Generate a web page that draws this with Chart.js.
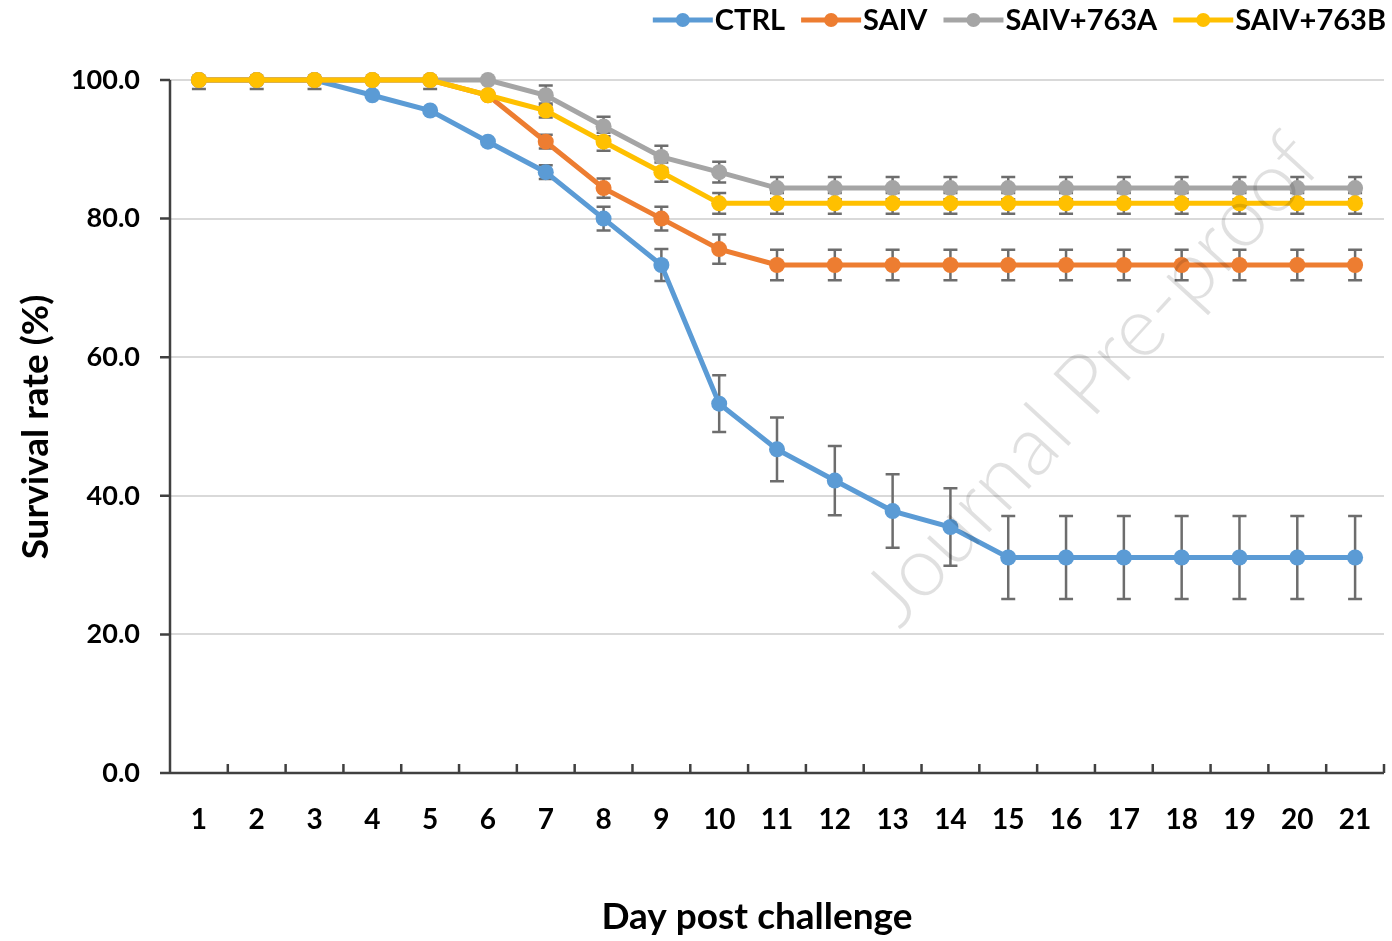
<!DOCTYPE html>
<html>
<head>
<meta charset="utf-8">
<script src="https://cdn.jsdelivr.net/npm/chart.js@4.4.1/dist/chart.umd.min.js"></script>
<style>
  html, body { margin: 0; padding: 0; background: #fff; }
  #wrap { width: 1392px; height: 941px; position: relative; }
</style>
</head>
<body>
<div id="wrap"><canvas id="myChart" width="1392" height="941"></canvas></div>
<script>
// datos
const dias = ['1','2','3','4','5','6','7','8','9','10','11','12','13','14','15','16','17','18','19','20','21'];
const nombresSeries = ['CTRL', 'SAIV', 'SAIV+763A', 'SAIV+763B'];
const coloresSeries = ['#5b9bd5', '#ed7d31', '#a5a5a5', '#ffc000'];

const ctrl  = [100,100,100,97.8,95.6,91.1,86.7,80.0,73.3,53.3,46.7,42.2,37.8,35.5,31.1,31.1,31.1,31.1,31.1,31.1,31.1];
const saiv  = [100,100,100,100,100,97.8,91.1,84.4,80.0,75.6,73.3,73.3,73.3,73.3,73.3,73.3,73.3,73.3,73.3,73.3,73.3];
const saivA = [100,100,100,100,100,100,97.8,93.3,88.9,86.7,84.4,84.4,84.4,84.4,84.4,84.4,84.4,84.4,84.4,84.4,84.4];
const saivB = [100,100,100,100,100,97.8,95.6,91.1,86.7,82.2,82.2,82.2,82.2,82.2,82.2,82.2,82.2,82.2,82.2,82.2,82.2];

// barras de error (+/-)
const errCtrl  = [0,0,0,0,0,0,1.0,1.7,2.3,4.1,4.6,5.0,5.3,5.6,6.0,6.0,6.0,6.0,6.0,6.0,6.0];
const errSaiv  = [0,0,0,0,0,0,1.0,1.4,1.7,2.1,2.2,2.2,2.2,2.2,2.2,2.2,2.2,2.2,2.2,2.2,2.2];
const errSaivA = [1.3,1.3,1.3,0,1.3,0,1.4,1.4,1.6,1.5,1.6,1.6,1.6,1.6,1.6,1.6,1.6,1.6,1.6,1.6,1.6];
const errSaivB = [0,0,0,0,0,0,1.0,1.3,1.4,1.5,1.5,1.5,1.5,1.5,1.5,1.5,1.5,1.5,1.5,1.5,1.5];

const ticksY = [0, 20, 40, 60, 80, 100];

const tituloX = 'Day post challenge';
const tituloY = 'Survival rate (%)';

const valores = [ctrl, saiv, saivA, saivB];
const errores = [errCtrl, errSaiv, errSaivA, errSaivB];

const FUENTE = "Lato, 'Open Sans', sans-serif";

// dibujar barras de error debajo de las series
const pluginErrores = {
  id: 'errores',
  beforeDatasetsDraw(chart) {
    const ctx = chart.ctx;
    const x = chart.scales.x, y = chart.scales.y;
    const area = chart.chartArea;
    ctx.save();
    ctx.beginPath();
    ctx.rect(area.left, area.top, area.right - area.left, area.bottom - area.top);
    ctx.clip();
    ctx.strokeStyle = '#6d6d6d';
    ctx.lineWidth = 2.5;
    valores.forEach((serie, s) => {
      serie.forEach((v, i) => {
        const e = errores[s][i];
        if (!e) return;
        const px = x.getPixelForValue(i);
        const y1 = y.getPixelForValue(v + e);
        const y2 = y.getPixelForValue(v - e);
        ctx.beginPath();
        ctx.moveTo(px, y1); ctx.lineTo(px, y2);
        ctx.moveTo(px - 7, y1); ctx.lineTo(px + 7, y1);
        ctx.moveTo(px - 7, y2); ctx.lineTo(px + 7, y2);
        ctx.stroke();
      });
    });
    ctx.restore();
  },
  afterDraw(chart) {
    const ctx = chart.ctx;
    const x = chart.scales.x, y = chart.scales.y;
    const area = chart.chartArea;
    ctx.save();
    // ejes
    ctx.strokeStyle = '#404040';
    ctx.lineWidth = 2.5;
    ctx.beginPath();
    ctx.moveTo(area.left, area.top); ctx.lineTo(area.left, area.bottom);
    ctx.moveTo(area.left, area.bottom); ctx.lineTo(area.right, area.bottom);
    // marcas del eje x hacia arriba
    const paso = x.getPixelForValue(1) - x.getPixelForValue(0);
    for (let i = 0; i <= dias.length; i++) {
      const px = x.getPixelForValue(0) - paso / 2 + i * paso;
      ctx.moveTo(px, area.bottom); ctx.lineTo(px, area.bottom - 9);
    }
    // marcas del eje y hacia la izquierda
    ticksY.forEach(t => {
      const py = y.getPixelForValue(t);
      ctx.moveTo(area.left - 10, py); ctx.lineTo(area.left, py);
    });
    ctx.stroke();

    // titulos de los ejes
    ctx.fillStyle = '#000';
    ctx.textAlign = 'center';
    ctx.textBaseline = 'middle';
    ctx.font = "bold 37px " + FUENTE;
    ctx.fillText(tituloX, 757, 917);
    ctx.save();
    ctx.translate(36, 427);
    ctx.rotate(-Math.PI / 2);
    ctx.fillText(tituloY, 0, 0);
    ctx.restore();

    // marca de agua
    ctx.translate(1092, 380);
    ctx.rotate(-47.5 * Math.PI / 180);
    ctx.font = "300 84px " + FUENTE;
    ctx.fillStyle = 'rgba(0,0,0,0.12)';
    ctx.textAlign = 'center';
    ctx.textBaseline = 'middle';
    ctx.fillText('Journal Pre-proof', 0, 0);
    ctx.restore();

    // leyenda
    ctx.save();
    ctx.font = "bold 29px " + FUENTE;
    ctx.textBaseline = 'middle';
    const ly = 20;
    let xr = 1386;
    const anchos = nombresSeries.map(n => ctx.measureText(n).width);
    const posiciones = [];
    for (let s = nombresSeries.length - 1; s >= 0; s--) {
      const xt = xr - anchos[s];
      posiciones[s] = xt;
      xr = xt - 62 - 16;
    }
    nombresSeries.forEach((n, s) => {
      const xt = posiciones[s];
      ctx.strokeStyle = coloresSeries[s];
      ctx.lineWidth = 5;
      ctx.beginPath();
      ctx.moveTo(xt - 62, ly); ctx.lineTo(xt - 2, ly);
      ctx.stroke();
      ctx.fillStyle = coloresSeries[s];
      ctx.beginPath();
      ctx.arc(xt - 32, ly, 7, 0, Math.PI * 2);
      ctx.fill();
      ctx.fillStyle = '#000';
      ctx.fillText(n, xt, ly + 1);
    });
    ctx.restore();
  }
};

const datasets = valores.map((serie, s) => ({
  label: nombresSeries[s],
  data: serie,
  borderColor: coloresSeries[s],
  backgroundColor: coloresSeries[s],
  pointBackgroundColor: coloresSeries[s],
  pointBorderColor: coloresSeries[s],
  borderWidth: 5,
  pointRadius: 8,
  pointBorderWidth: 0,
  fill: false,
  tension: 0,
  clip: false,
  order: nombresSeries.length - s
}));

var Canvas = document.getElementById('myChart');

var lineChart = new Chart(Canvas, {
  type: 'line',
  data: { labels: dias, datasets: datasets },
  plugins: [pluginErrores],
  options: {
    responsive: false,
    animation: false,
    events: [],
    layout: { padding: { top: 80, right: 0, left: 10, bottom: 0 } },
    plugins: { legend: { display: false }, tooltip: { enabled: false } },
    scales: {
      x: {
        offset: true,
        grid: { display: false, drawTicks: true, tickLength: 30 },
        border: { display: false },
        ticks: { color: '#000', font: { family: FUENTE, size: 28, weight: 'bold' }, padding: 0, maxRotation: 0, autoSkip: false },
        afterFit: (scale) => { scale.height = 168; }
      },
      y: {
        min: 0, max: 100,
        afterBuildTicks: (scale) => { scale.ticks = ticksY.map(v => ({ value: v })); },
        grid: { color: '#d9d9d9', lineWidth: 2, drawTicks: false },
        border: { display: false },
        ticks: { color: '#000', font: { family: FUENTE, size: 27, weight: 'bold' }, padding: 30, callback: (v) => v.toFixed(1) },
        afterFit: (scale) => { scale.width = 160; }
      }
    }
  }
});
</script>
</body>
</html>
